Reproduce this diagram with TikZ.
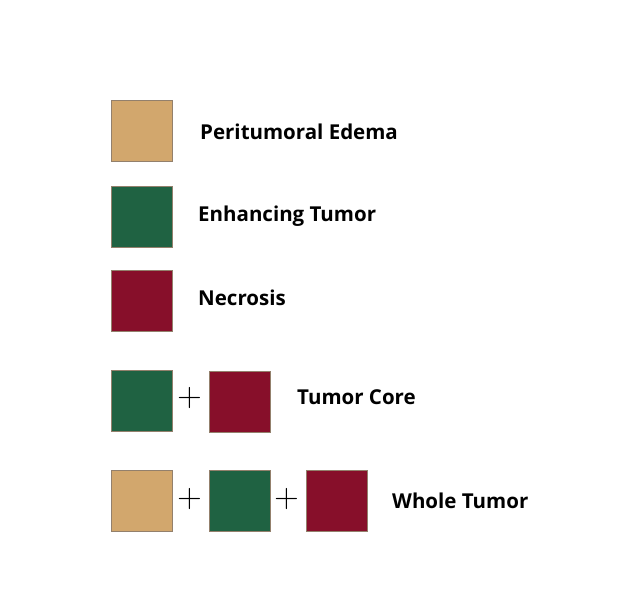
\documentclass[tikz,border=0pt]{standalone}
\usepackage{fontspec}
\setmainfont{Open Sans}
\begin{document}
\begin{tikzpicture}[x=1pt,y=-1pt,
  sq/.style={draw=gray!70!brown, line width=0.8pt, minimum size=61pt, inner sep=0pt, anchor=north west},
  lab/.style={anchor=west, inner sep=0pt, font=\fontsize{20.5}{24}\selectfont\bfseries},
  pl/.style={inner sep=0pt, font=\fontsize{34}{36}\selectfont\sffamily}]
\definecolor{edema}{HTML}{D2A76D}
\definecolor{enh}{HTML}{1F6242}
\definecolor{necr}{HTML}{870F2A}
\useasboundingbox (0,0) rectangle (632,600);
\fill[white] (0,0) rectangle (632,600);
% rows 1-3
\node[sq, fill=edema] (s1) at (111,100) {};
\node[lab] (t1) at (200,132) {Peritumoral Edema};
\node[sq, fill=enh] (s2) at (111,186) {};
\node[lab] (t2) at (198,216) {Enhancing Tumor};
\node[sq, fill=necr] (s3) at (111,270) {};
\node[lab] (t3) at (198,298) {Necrosis};
% row 4
\node[sq, fill=enh] (s4a) at (111,370) {};
\node[pl] (p4) at (190,398) {+};
\node[sq, fill=necr] (s4b) at (209,371) {};
\node[lab] (t4) at (297,397) {Tumor Core};
% row 5
\node[sq, fill=edema] (s5a) at (111,470) {};
\node[pl] (p5a) at (190,499) {+};
\node[sq, fill=enh] (s5b) at (209,470) {};
\node[pl] (p5b) at (287,499) {+};
\node[sq, fill=necr] (s5c) at (306,470) {};
\node[lab] (t5) at (392,501) {Whole Tumor};
\end{tikzpicture}
\end{document}
